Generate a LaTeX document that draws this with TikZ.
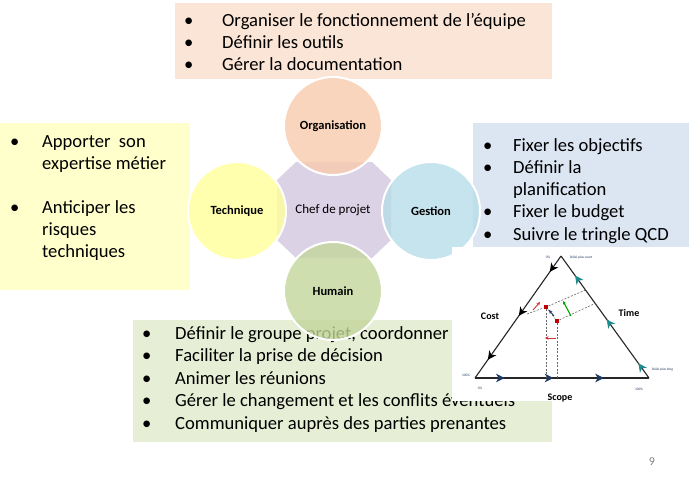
\documentclass[tikz,border=0pt]{standalone}
\usepackage{fontspec}
\setmainfont{Carlito}
\usetikzlibrary{arrows.meta,decorations.markings}
\definecolor{topbox}{HTML}{FBE5D6}
\definecolor{leftbox}{HTML}{FFFFCC}
\definecolor{rightbox}{HTML}{DCE6F2}
\definecolor{botbox}{HTML}{E6EED5}
\definecolor{orgc}{HTML}{F8CBAD}
\definecolor{techc}{HTML}{FFFF99}
\definecolor{gestc}{HTML}{B7DDE8}
\definecolor{humc}{HTML}{C3D69B}
\definecolor{cenc}{HTML}{DCD2E6}
\definecolor{navy}{HTML}{1F3864}
\definecolor{tealc}{HTML}{1C8C8C}
\definecolor{dotred}{HTML}{C00000}
\begin{document}
\begin{tikzpicture}[x=1pt,y=-1pt,
  listtxt/.style={anchor=base west,inner sep=0pt,font=\fontsize{18.6}{22}\selectfont},
  circ/.style={circle,minimum size=98pt,inner sep=0pt,draw=white,line width=2pt,fill opacity=0.8,text opacity=1,font=\bfseries\fontsize{12.5}{14}\selectfont},
  edge/.style={line width=1.1pt,draw=black!85},
  arrs/.style n args={4}{postaction={decorate},decoration={markings,
     mark=at position #1 with {\arrow{Stealth[length=8.5pt,width=8.5pt,inset=2.5pt,color=#4]}},
     mark=at position #2 with {\arrow{Stealth[length=8.5pt,width=8.5pt,inset=2.5pt,color=#4]}},
     mark=at position #3 with {\arrow{Stealth[length=8.5pt,width=8.5pt,inset=2.5pt,color=#4]}}}},
  dsh/.style={dashed,dash pattern=on 2pt off 1.5pt,draw=black!60,line width=0.6pt},
  dotm/.style={rectangle,fill=dotred,minimum size=4.5pt,inner sep=0pt},
  tiny/.style={font=\fontsize{3.5}{4}\selectfont,text=navy,inner sep=0pt},
  axlab/.style={font=\bfseries\fontsize{10}{12}\selectfont,inner sep=0pt},
  smallarr/.style={-{Stealth[length=3.5pt,width=3.5pt]},line width=0.9pt}
]
\useasboundingbox (0,0) rectangle (689,480);

% boxes
\fill[topbox] (175,3) rectangle (552,79);
\fill[leftbox] (0,123) rectangle (190,290);
\fill[rightbox] (473,123) rectangle (689,247);
\fill[botbox] (133,320) rectangle (552,442);

\node[listtxt] (toplist) at (184,26) {\begin{tabular}[t]{@{}p{38pt}@{}l@{}}
•& Organiser le fonctionnement de l’équipe\\
•& Définir les outils\\
•& Gérer la documentation\end{tabular}};

\node[listtxt] (leftlist) at (10,147) {\begin{tabular}[t]{@{}p{32pt}@{}l@{}}
•& Apporter\ \ son\\
 & expertise métier\\[22pt]
•& Anticiper les\\
 & risques\\
 & techniques\end{tabular}};

\node[listtxt,font=\fontsize{18.6}{22.25}\selectfont] (rightlist) at (483,151) {\begin{tabular}[t]{@{}p{30pt}@{}l@{}}
•& Fixer les objectifs\\
•& Définir la\\
 & planification\\
•& Fixer le budget\\
•& Suivre le tringle QCD\end{tabular}};

\node[listtxt,font=\fontsize{18.6}{22.5}\selectfont] (botlist) at (142,339) {\begin{tabular}[t]{@{}p{33pt}@{}l@{}}
•& Définir le groupe projet, coordonner\\
•& Faciliter la prise de décision\\
•& Animer les réunions\\
•& Gérer le changement et les conflits éventuels\\
•& Communiquer auprès des parties prenantes\end{tabular}};

% central shape
\fill[cenc] (277,180) -- (296,162) -- (372,162) -- (391,180) -- (391,240) -- (372,258) -- (296,258) -- (277,240) -- cycle;
\node[circ,fill=orgc] (org) at (333,126) {Organisation};
\node[circ,fill=techc] (tech) at (237,211) {Technique};
\node[circ,fill=gestc] (gest) at (431,211) {Gestion};
\node[circ,fill=humc] (hum) at (333,291) {Humain};
\node[font=\fontsize{13}{15}\selectfont,inner sep=0pt] (chef) at (333,210) {Chef de projet};

% triangle picture
\fill[white] (452,247) rectangle (689,401);
\coordinate (T) at (561,256);
\coordinate (L) at (475,378);
\coordinate (R) at (649,378);
\draw[edge,arrs={0.13}{0.49}{0.85}{black}] (T) -- (L);
\draw[edge,arrs={0.12}{0.48}{0.84}{tealc}] (R) -- (T);
\draw[edge,arrs={0.17}{0.45}{0.74}{navy}] (L) -- (R);

\coordinate (a1) at (527,314);
\coordinate (a2) at (585.5,290);
\coordinate (b2) at (596,303);
\node[dotm] (d1) at (546,307) {};
\node[dotm] (d2) at (557,321) {};
\draw[dsh] (a1) -- (d1) -- (a2);
\draw[dsh] (d2) -- (b2);
\draw[dsh] (d1) -- (d1 |- L);
\draw[dsh] (d2) -- (d2 |- L);
\draw[dsh] (d1) -- (d2);

\coordinate (ra1) at (533,310);
\coordinate (ra2) at (540,302);
\draw[smallarr,draw=dotred!80] (ra1) -- (ra2);
\coordinate (rb1) at (556,338);
\coordinate (rb2) at (545,338);
\draw[smallarr,draw=dotred!80] (rb1) -- (rb2);
\coordinate (g1) at (571,316);
\coordinate (g2) at (563,301);
\draw[smallarr,draw=green!65!black,line width=1.1pt] (g1) -- (g2);
\coordinate (n1) at (554,316);
\coordinate (n2) at (549,310);
\draw[smallarr,draw=navy] (n1) -- (n2);

\node[axlab] (cost) at (490,316) {Cost};
\node[axlab] (time) at (629,313) {Time};
\node[axlab] (scope) at (560,398) {Scope};

\node[tiny,anchor=west] (tl1) at (570,258) {Délai plus court};
\node[tiny] (tl2) at (548,257) {0\%};
\node[tiny,anchor=west] (tl3) at (652,370) {Délai plus long};
\node[tiny] (tl4) at (639,389) {100\%};
\node[tiny] (tl5) at (466,375) {100\%};
\node[tiny] (tl6) at (480,388) {0\%};

% page number
\node[font=\fontsize{12}{14}\selectfont,text=black!50,inner sep=0pt] (pg) at (652,462) {9};
\end{tikzpicture}
\end{document}
